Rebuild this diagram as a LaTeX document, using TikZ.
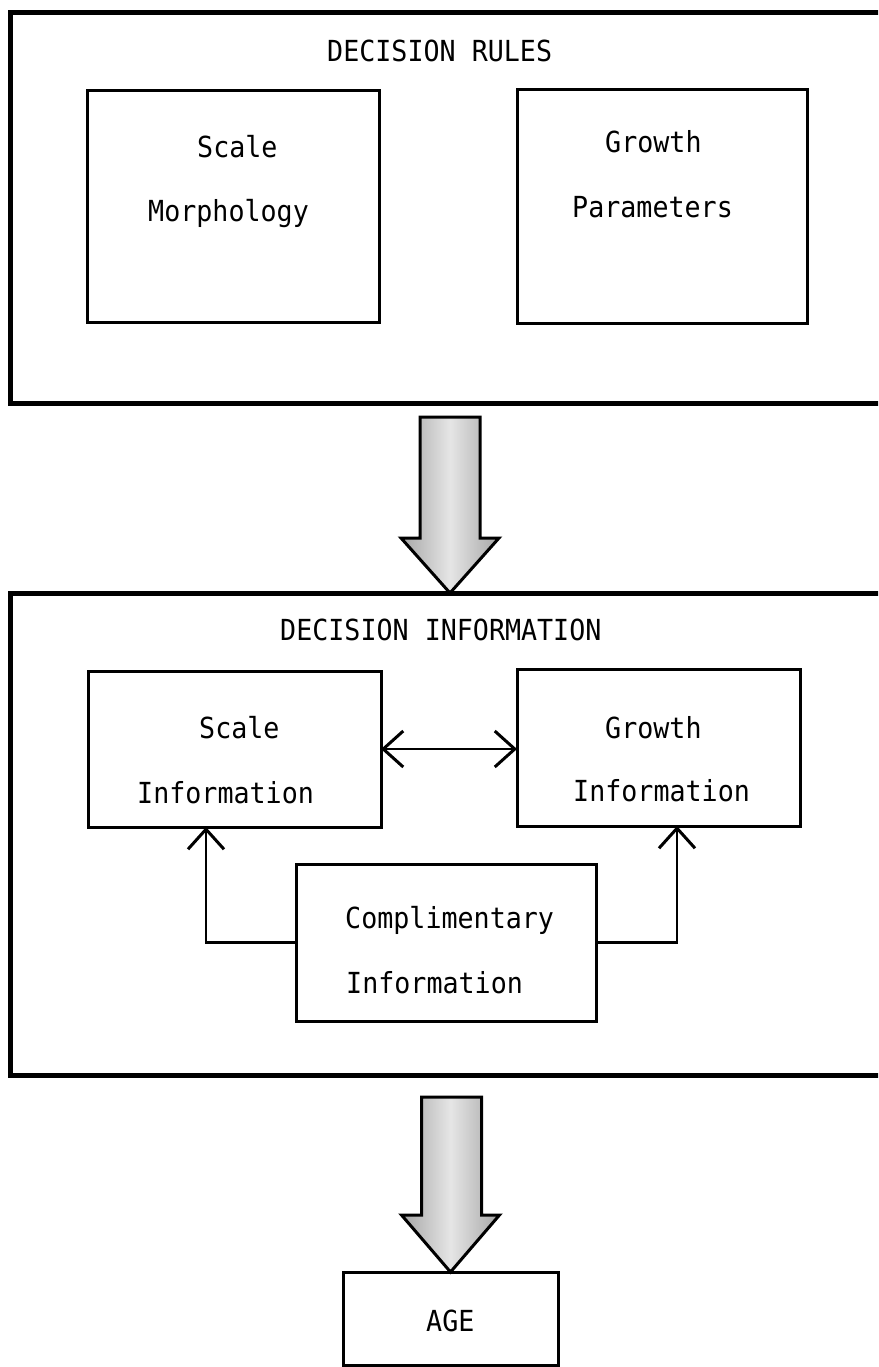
\documentclass[tikz,border=0pt]{standalone}
\usepackage{fontspec}
\newfontfamily\tw[FakeStretch=0.92]{DejaVu Sans Mono}
\usetikzlibrary{arrows.meta,calc}
\begin{document}
\begin{tikzpicture}[x=1pt,y=-1pt,
  frame/.style={draw, line width=5pt, rectangle, anchor=north west, inner sep=0pt, outer sep=0pt},
  box/.style={draw, line width=3pt, rectangle, anchor=north west, inner sep=0pt, outer sep=0pt},
  txt/.style={anchor=base west, inner sep=0pt, font=\tw\fontsize{29}{34}\selectfont},
  conn/.style={line width=2.6pt},
  barbtip/.tip={Straight Barb[length=20pt,width=36pt,line width=3pt]},
  blockarrow/.style={draw, line width=3pt, line join=miter, left color=gray!70, right color=gray!70, middle color=gray!20}
]
\clip (0,0) rectangle (878,1367);
\fill[white] (0,0) rectangle (878,1367);

% frames
\node[frame, minimum width=900pt, minimum height=390pt] (rules) at (10,13) {};
\node[frame, minimum width=900pt, minimum height=482pt] (info) at (10,593) {};

% inner boxes
\node[box, minimum width=292pt, minimum height=231pt] (smorph) at (87,91) {};
\node[box, minimum width=290pt, minimum height=233pt] (gparam) at (517,90) {};
\node[box, minimum width=293pt, minimum height=156pt] (sinfo) at (88,671) {};
\node[box, minimum width=283pt, minimum height=157pt] (ginfo) at (517,669) {};
\node[box, minimum width=300pt, minimum height=157pt] (comp) at (296,864) {};
\node[box, minimum width=215pt, minimum height=93pt] (age) at (343,1272) {};

% texts
\node[txt] (tr) at (327,62) {DECISION RULES};
\node[txt] (ts1) at (197,158) {Scale};
\node[txt] (ts2) at (148,222) {Morphology};
\node[txt] (tg1) at (605,153) {Growth};
\node[txt] (tg2) at (572,217) {Parameters};
\node[txt] (ti) at (280,640) {DECISION INFORMATION};
\node[txt] (tsi1) at (199,738) {Scale};
\node[txt] (tsi2) at (137,803) {Information};
\node[txt] (tgi1) at (605,738) {Growth};
\node[txt] (tgi2) at (573,801) {Information};
\node[txt] (tc1) at (345,928) {Complimentary};
\node[txt] (tc2) at (346,993) {Information};
\node[txt] (tage) at (426,1331) {AGE};

% block arrows
\coordinate (tip1) at (450,593);
\path[blockarrow] (tip1) -- ++(49,-55) -- ++(-19,0) -- ++(0,-121) -- ++(-60,0) -- ++(0,121) -- ++(-19,0) -- cycle;
\path[blockarrow] (age.north) -- ++(49,-57) -- ++(-18,0) -- ++(0,-118) -- ++(-60,0) -- ++(0,118) -- ++(-20,0) -- cycle;

% connectors
\coordinate (lx) at (206,0);
\coordinate (rx) at (677,0);
\draw[conn,-barbtip] (comp.west) -| (sinfo.south -| lx);
\draw[conn,-barbtip] (comp.east) -| (ginfo.south -| rx);
\draw[conn,barbtip-barbtip] (sinfo.east) -- (sinfo.east -| ginfo.west);
\end{tikzpicture}
\end{document}
